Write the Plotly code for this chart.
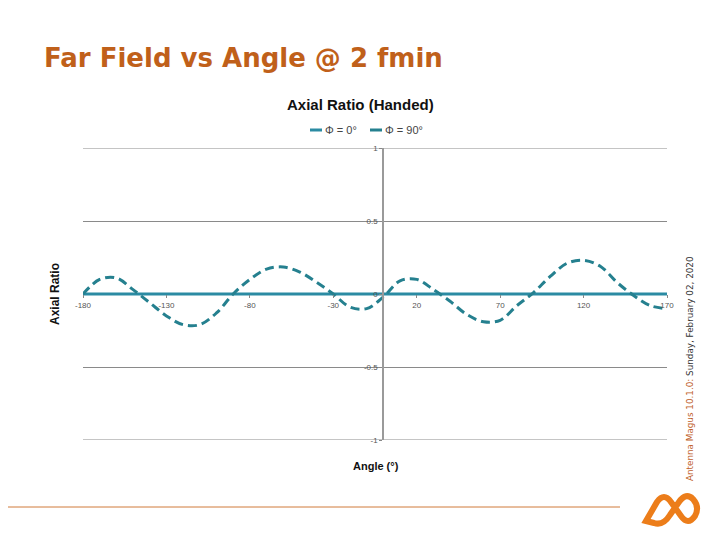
import plotly.graph_objects as go

# ---------------- data ----------------
angles = [-180, -170, -160, -150, -140, -130, -120, -110, -100, -90,
          -80, -70, -60, -50, -40, -30, -20, -10, 0, 10,
          20, 30, 40, 50, 60, 70, 80, 90, 100, 110,
          120, 130, 140, 150, 160, 170]
ar_phi0 = [0.0] * len(angles)
ar_phi90 = [0.00, 0.10, 0.11, 0.03, -0.06, -0.15, -0.21, -0.21, -0.13, 0.00,
            0.10, 0.17, 0.185, 0.15, 0.08, 0.00, -0.09, -0.10, -0.02, 0.09,
            0.10, 0.03, -0.05, -0.14, -0.19, -0.18, -0.08, 0.01, 0.12, 0.21,
            0.23, 0.19, 0.08, -0.01, -0.08, -0.10]
x_ticks = [-180, -130, -80, -30, 20, 70, 120, 170]
y_ticks = [-1, -0.5, 0, 0.5, 1]
y_tick_text = ["-1", "-0.5", "0", "0.5", "1"]
series_names = ["Φ = 0°", "Φ = 90°"]

page_title = "Far Field vs Angle @ 2 fmin"
chart_title = "Axial Ratio (Handed)"
x_title = "Angle (°)"
y_title = "Axial Ratio"

OFF = 8  # page body margin
W, H = 720 - OFF, 540 - OFF
L, R, T, B = 83, 667, 148, 440  # page pixel coords of plot area


def px(x):
    return (x - L) / (R - L)


def py(y):
    return (B - y) / (B - T)


teal = "#2b8ba3"
teal2 = "#25808f"
orange = "#c0601a"

fig = go.Figure()
fig.add_trace(go.Scatter(x=angles, y=ar_phi0, mode="lines", name=series_names[0],
                         line=dict(color=teal, width=3)))
fig.add_trace(go.Scatter(x=angles, y=ar_phi90, mode="lines", name=series_names[1],
                         line=dict(color=teal2, width=3, dash="9px,5px", shape="spline",
                                   smoothing=1.0)))

xr = [x_ticks[0], x_ticks[-1]]
zero_x_frac = (0 - xr[0]) / (xr[1] - xr[0])

fig.update_layout(
    width=W, height=H,
    margin=dict(l=L - OFF, r=W - (R - OFF), t=T - OFF, b=H - (B - OFF), pad=0),
    paper_bgcolor="white", plot_bgcolor="white",
    font=dict(family="Liberation Sans, Arial, sans-serif", color="#555"),
    showlegend=False,
    xaxis=dict(range=xr, tickvals=x_ticks, ticktext=[str(v) for v in x_ticks],
               anchor="free", position=0.5, showgrid=False, zeroline=False,
               showline=False, ticks="outside", ticklen=3, tickcolor="#888",
               tickfont=dict(size=8, color="#555")),
    yaxis=dict(range=[-1, 1], tickvals=y_ticks, ticktext=y_tick_text,
               anchor="free", position=zero_x_frac, showgrid=True, gridcolor="#8a8a8a",
               gridwidth=1, zeroline=False, showline=True, linecolor="#9a9a9a",
               linewidth=2, ticks="outside", ticklen=3, tickcolor="#888",
               tickfont=dict(size=8, color="#555")),
)

ann = []
ann.append(dict(text="<b>" + page_title + "</b>", x=px(42), y=py(58), xref="paper", yref="paper",
                xanchor="left", yanchor="middle", showarrow=False,
                font=dict(family="DejaVu Sans, sans-serif", size=26, color=orange)))
ann.append(dict(text="<b>" + chart_title + "</b>", x=px(360), y=py(104), xref="paper", yref="paper",
                xanchor="center", yanchor="middle", showarrow=False,
                font=dict(size=15, color="#111")))
ann.append(dict(text="<b>" + x_title + "</b>", x=px(376), y=py(466), xref="paper", yref="paper",
                xanchor="center", yanchor="middle", showarrow=False,
                font=dict(size=11, color="#111")))
ann.append(dict(text="<b>" + y_title + "</b>", x=px(55), y=py(294), xref="paper", yref="paper",
                xanchor="center", yanchor="middle", showarrow=False, textangle=-90,
                font=dict(size=12, color="#111")))
ann.append(dict(text="<span style='color:#c0602a'>Antenna Magus 10.1.0:</span> Sunday, February 02, 2020",
                x=px(690), y=py(369), xref="paper", yref="paper",
                xanchor="center", yanchor="middle", showarrow=False, textangle=-90,
                font=dict(family="DejaVu Sans, sans-serif", size=8.8, color="#333")))

# legend (drawn manually: short line keys)
leg_x = [310, 370]
shapes = []
for i, name in enumerate(series_names):
    shapes.append(dict(type="line", xref="paper", yref="paper",
                       x0=px(leg_x[i]), x1=px(leg_x[i] + 12), y0=py(130), y1=py(130),
                       line=dict(color=[teal, teal2][i], width=3)))
    ann.append(dict(text=name, x=px(leg_x[i] + 13), y=py(130), xref="paper", yref="paper",
                    xanchor="left", yanchor="middle", showarrow=False,
                    font=dict(size=11, color="#444")))
fig.update_layout(annotations=ann)

# gridlines at the range ends
for yv in [y_ticks[0], y_ticks[-1]]:
    shapes.append(dict(type="line", xref="paper", yref="y", x0=0, x1=1, y0=yv, y1=yv,
                       line=dict(color="#8a8a8a", width=1), layer="below"))

shapes.append(dict(type="line", xref="paper", yref="paper", x0=px(0), x1=px(620),
                   y0=py(507), y1=py(507), line=dict(color="#d07a3a", width=1)))


def path_from(points):
    s = ""
    for cmd, xs in points:
        s += cmd + " " + " ".join(f"{px(a):.4f},{py(b):.4f}" for a, b in xs) + " "
    return s


logo = [("M", [(646, 521)]), ("L", [(657, 502)]), ("Q", [(664, 492), (671, 502)]),
        ("L", [(681, 516)]), ("Q", [(688, 526), (695, 516)]),
        ("Q", [(700, 507), (693, 499)]), ("Q", [(686, 492), (679, 502)]),
        ("L", [(670, 515)]), ("Q", [(663, 526), (654, 523)]), ("Z", [])]
shapes.append(dict(type="path", xref="paper", yref="paper", path=path_from(logo),
                   line=dict(color="#ec7d1a", width=6), fillcolor="rgba(0,0,0,0)"))
fig.update_layout(shapes=shapes)

fig.write_html("out.html")
